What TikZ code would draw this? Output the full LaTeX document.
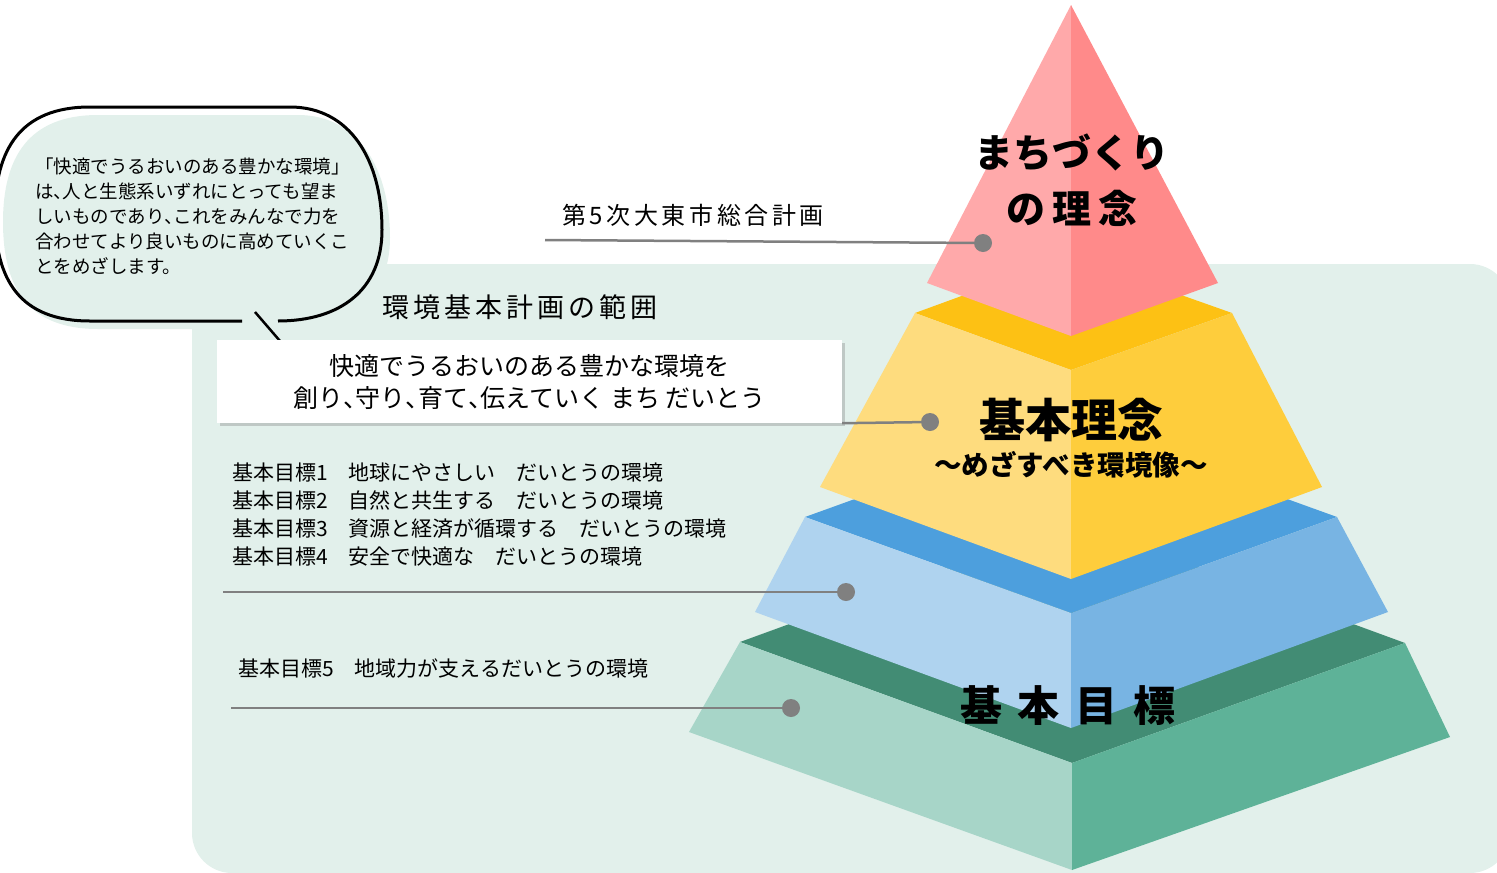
\documentclass[tikz,border=0pt]{standalone}
\usepackage{fontspec}
\setmainfont{Noto Sans CJK JP}
\newfontfamily\widefont{Noto Sans CJK JP}[LetterSpace=15]
\usetikzlibrary{shadows}

\definecolor{panel}{HTML}{E2F0EB}
\definecolor{leadgray}{HTML}{808080}
\definecolor{redL}{HTML}{FFA9AA}
\definecolor{redR}{HTML}{FF8A8A}
\definecolor{yelT}{HTML}{FDC114}
\definecolor{yelL}{HTML}{FEDC7E}
\definecolor{yelR}{HTML}{FECD3C}
\definecolor{bluT}{HTML}{4D9FDD}
\definecolor{bluL}{HTML}{AFD3EF}
\definecolor{bluR}{HTML}{78B4E3}
\definecolor{grnT}{HTML}{428C74}
\definecolor{grnL}{HTML}{A7D5C8}
\definecolor{grnR}{HTML}{5EB298}

\newcommand{\ten}{\makebox[0.5em][l]{、}}

\begin{document}
\begin{tikzpicture}[x=1pt,y=-1pt,
	lead/.style={draw=leadgray, line width=2.5pt},
	dot/.style={circle, fill=leadgray, minimum size=18pt, inner sep=0pt},
	plain/.style={inner sep=0pt, text=black},
	whitebox/.style={fill=white, minimum width=625pt, minimum height=83pt, inner sep=0pt, align=center,
		drop shadow={shadow xshift=3pt, shadow yshift=-3pt, opacity=0.35},
		font=\fontsize{25}{32}\selectfont},
	tier/.style={plain, font=\bfseries\fontsize{42}{50}\selectfont}]
	\useasboundingbox (0,0) rectangle (1497,873);

	\fill[panel, rounded corners=40pt] (192,264) rectangle (1510,873);

	\fill[panel] (250,329) -- (98,329) .. controls (28,329) and (3,288) .. (3,222)
		.. controls (3,158) and (28,115) .. (98,115) -- (298,115)
		.. controls (358,115) and (390,168) .. (390,238)
		.. controls (390,298) and (348,329) .. (286,329) -- cycle;
	\draw[line width=3pt] (242,321) -- (90,321) .. controls (20,321) and (-5,280) .. (-5,214)
		.. controls (-5,150) and (20,107) .. (90,107) -- (290,107)
		.. controls (350,107) and (382,160) .. (382,230)
		.. controls (382,290) and (340,321) .. (278,321);
	\coordinate (tailA) at (255,312);
	\coordinate (tailB) at (280,341);
	\draw[line width=2.5pt] (tailA) -- (tailB);

	\node[plain, anchor=west, align=left, font=\fontsize{18.5}{25}\selectfont] (bubtxt) at (35,216)
		{「快適でうるおいのある豊かな環境」\\は\ten 人と生態系いずれにとっても望ま\\しいものであり\ten これをみんなで力を\\合わせてより良いものに高めていくこ\\とをめざします。};

	% pyramid
	\fill[grnT] (740,642) -- (1072,521) -- (1405,643) -- (1072,763) -- cycle;
	\fill[grnL] (740,642) -- (1072,763) -- (1072,870) -- (689,732) -- cycle;
	\fill[grnR] (1405,643) -- (1072,763) -- (1072,870) -- (1450,737) -- cycle;

	\fill[bluT] (805,517) -- (1071,421) -- (1337,517) -- (1071,613) -- cycle;
	\fill[bluL] (805,517) -- (1071,613) -- (1071,728) -- (755,612) -- cycle;
	\fill[bluR] (1337,517) -- (1071,613) -- (1071,728) -- (1388,612) -- cycle;

	\fill[yelT] (915,313) -- (1071,256) -- (1232,313) -- (1071,370) -- cycle;
	\fill[yelL] (915,313) -- (1071,370) -- (1071,579) -- (820,487) -- cycle;
	\fill[yelR] (1232,313) -- (1071,370) -- (1071,579) -- (1322,487) -- cycle;

	\fill[redL] (1071,5) -- (927,283) -- (1071,336) -- cycle;
	\fill[redR] (1071,5) -- (1218,283) -- (1071,336) -- cycle;

	\node[tier, align=center, font=\bfseries\fontsize{39}{56}\selectfont] (town) at (1072,180) {まちづくり\\の\hspace{7pt}理\hspace{7pt}念};
	\node[tier, font=\bfseries\fontsize{46}{50}\selectfont] (ideal) at (1071,420) {基本理念};
	\node[plain, font=\bfseries\fontsize{27.5}{30}\selectfont] (vision) at (1071,465) {～めざすべき環境像～};
	\node[tier] (goals) at (1068,706) {基\hspace{16pt}本\hspace{16pt}目\hspace{16pt}標};

	% labels
	\node[plain, font=\widefont\fontsize{24}{28}\selectfont] (plan) at (693,215) {第5次大東市総合計画};
	\node[plain, font=\widefont\fontsize{27}{30}\selectfont] (scope) at (520,307) {環境基本計画の範囲};
	\node[whitebox] (box) at (529.5,381.5) {快適でうるおいのある豊かな環境を\\創り\ten 守り\ten 育て\ten 伝えていく まち だいとう};
	\node[plain, anchor=west, align=left, font=\fontsize{21}{28}\selectfont] (goal14) at (232,515)
		{基本目標1　地球にやさしい　だいとうの環境\\基本目標2　自然と共生する　だいとうの環境\\基本目標3　資源と経済が循環する　だいとうの環境\\基本目標4　安全で快適な　だいとうの環境};
	\node[plain, anchor=west, font=\fontsize{21}{28}\selectfont] (goal5) at (238,668) {基本目標5　地域力が支えるだいとうの環境};

	\node[dot] (dot1) at (983,243) {};
	\node[dot] (dot2) at (930,422) {};
	\node[dot] (dot3) at (846,592) {};
	\node[dot] (dot4) at (791,708) {};

	\coordinate (start1) at (545,240);
	\coordinate (start3) at (223,592);
	\coordinate (start4) at (231,708);

	\draw[lead] (start1) -- (dot1);
	\draw[lead] (box.south east) -- (dot2);
	\draw[lead] (start3) -- (dot3);
	\draw[lead] (start4) -- (dot4);
\end{tikzpicture}
\end{document}
